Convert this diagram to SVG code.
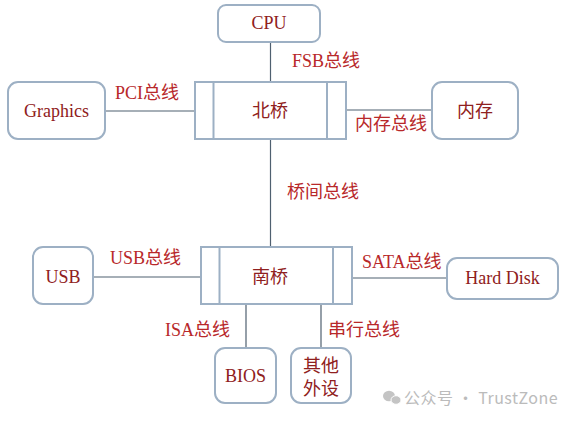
<svg xmlns="http://www.w3.org/2000/svg" width="569" height="421" viewBox="0 0 569 421">
<style>
.box{fill:#fff;stroke:#9db0c4;stroke-width:2}
.bridge{fill:#fff;stroke:#9db0c4;stroke-width:2}
.ln{stroke:#4f6070;stroke-width:1.2;fill:none}
.nt{font-family:"Liberation Serif","Noto Sans CJK SC",serif;font-size:18px;fill:#8f2020;text-anchor:middle}
.lb{font-family:"Liberation Serif","Noto Sans CJK SC",serif;font-size:18px;fill:#b8282a}
.wm{font-family:"Noto Sans CJK SC","Liberation Sans",sans-serif;font-size:16px;fill:#bbbbbb;letter-spacing:0.5px}
</style>
<rect width="569" height="421" fill="#fff"/>
<g id="connectors">
<line class="ln" x1="270.5" y1="42" x2="270.5" y2="82"/>
<line class="ln" x1="105" y1="111" x2="195" y2="111"/>
<line class="ln" x1="346" y1="110" x2="432" y2="110"/>
<line class="ln" x1="270.5" y1="139" x2="270.5" y2="247"/>
<line class="ln" x1="93" y1="277" x2="201" y2="277"/>
<line class="ln" x1="352" y1="278" x2="447" y2="278"/>
<line class="ln" x1="246" y1="304" x2="246" y2="348"/>
<line class="ln" x1="321" y1="304" x2="321" y2="348"/>
</g>
<g id="labels">
<text class="lb" x="292" y="67">FSB总线</text>
<text class="lb" x="115" y="99">PCI总线</text>
<text class="lb" x="355" y="130">内存总线</text>
<text class="lb" x="287" y="198">桥间总线</text>
<text class="lb" x="110" y="264">USB总线</text>
<text class="lb" x="362" y="268">SATA总线</text>
<text class="lb" x="165" y="336">ISA总线</text>
<text class="lb" x="328" y="336">串行总线</text>
</g>
<g id="cpu"><rect class="box" x="218" y="5" width="102" height="37" rx="8"/><text class="nt" x="269" y="29">CPU</text></g>
<g id="graphics"><rect class="box" x="8" y="82" width="97" height="57" rx="10"/><text class="nt" x="56.5" y="117">Graphics</text></g>
<g id="northbridge"><rect class="bridge" x="195" y="82" width="151" height="57"/><line class="bridge" x1="213.5" y1="82" x2="213.5" y2="139"/><line class="bridge" x1="327" y1="82" x2="327" y2="139"/><text class="nt" x="270" y="117">北桥</text></g>
<g id="memory"><rect class="box" x="432" y="82" width="86" height="57" rx="10"/><text class="nt" x="475" y="117">内存</text></g>
<g id="southbridge"><rect class="bridge" x="201" y="247" width="151" height="57"/><line class="bridge" x1="219.5" y1="247" x2="219.5" y2="304"/><line class="bridge" x1="333" y1="247" x2="333" y2="304"/><text class="nt" x="270" y="283">南桥</text></g>
<g id="usb"><rect class="box" x="33" y="247" width="60" height="57" rx="10"/><text class="nt" x="63" y="283">USB</text></g>
<g id="harddisk"><rect class="box" x="447" y="258" width="111" height="41" rx="10"/><text class="nt" x="502.5" y="284">Hard Disk</text></g>
<g id="bios"><rect class="box" x="215" y="348" width="61" height="55" rx="10"/><text class="nt" x="245.5" y="382">BIOS</text></g>
<g id="other"><rect class="box" x="291" y="348" width="60" height="55" rx="10"/><text class="nt" x="321" y="372">其他</text><text class="nt" x="321" y="395">外设</text></g>
<g id="watermark">
<ellipse cx="389" cy="396" rx="6" ry="5.2" fill="#c4c4c4"/>
<ellipse cx="396" cy="400" rx="5" ry="4.3" fill="#c4c4c4" stroke="#fff" stroke-width="1"/>
<text class="wm" x="404" y="404">公众号 · TrustZone</text>
</g>
</svg>
